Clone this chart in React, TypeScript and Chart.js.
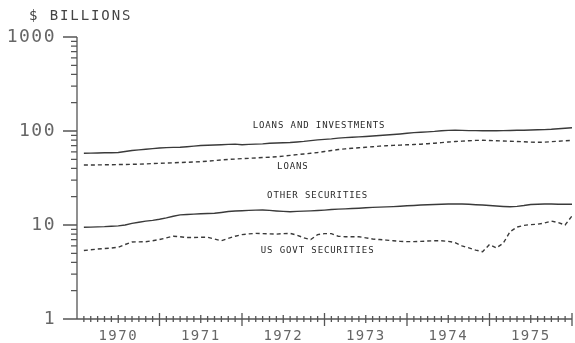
import React, { useEffect, useRef } from 'react';
import { Chart, registerables } from 'chart.js';

Chart.register(...registerables);

// Categories: month-end index (1 = Jan 1970 ... 72 = Dec 1975)
const MONTHS = Array.from({ length: 72 }, (_, i) => i + 1);
const YEAR_LABELS = ['1970', '1971', '1972', '1973', '1974', '1975'];
const Y_TICK_LABELS = [1, 10, 100, 1000];

// $ billions
const LOANS_AND_INVESTMENTS = [
  58.0, 58.2, 58.4, 58.6, 58.8, 59.0, 60.5, 62.0, 63.0, 64.0, 65.0, 66.0,
  66.5, 67.0, 67.2, 68.0, 69.0, 70.0, 70.5, 71.0, 71.5, 72.0, 72.5, 71.5,
  72.0, 72.5, 73.0, 74.0, 74.5, 75.0, 75.5, 76.5, 77.5, 79.0, 80.5, 81.5,
  82.5, 84.0, 85.0, 85.7, 86.5, 87.5, 88.5, 89.5, 90.6, 91.8, 93.0, 94.5,
  96.0, 97.0, 98.0, 99.0, 100.5, 101.5, 101.7, 101.5, 101.0, 100.8, 100.7, 100.5,
  100.7, 101.0, 101.2, 101.7, 102.0, 102.5, 103.0, 103.5, 104.3, 105.5, 107.0, 108.4,
];
const LOANS = [
  43.5, 43.5, 43.6, 43.7, 43.8, 44.0, 44.0, 44.2, 44.4, 44.7, 45.0, 45.3,
  45.6, 45.9, 46.2, 46.5, 46.8, 47.1, 47.8, 48.5, 49.2, 49.8, 50.3, 50.8,
  51.2, 51.7, 52.2, 52.6, 53.2, 54.0, 55.0, 56.0, 57.0, 58.0, 59.0, 60.5,
  62.0, 63.5, 64.5, 65.5, 66.3, 67.2, 68.0, 69.0, 69.8, 70.3, 70.8, 71.3,
  71.8, 72.4, 73.3, 74.2, 75.2, 76.3, 77.2, 78.0, 78.8, 79.4, 79.6, 79.2,
  78.7, 78.3, 77.8, 77.3, 76.8, 76.2, 75.8, 76.2, 77.0, 77.8, 78.8, 79.6,
];
const OTHER_SECURITIES = [
  9.45, 9.5, 9.55, 9.6, 9.7, 9.8, 10.0, 10.4, 10.7, 11.0, 11.2, 11.5,
  11.9, 12.4, 12.8, 12.95, 13.05, 13.15, 13.25, 13.35, 13.6, 13.9, 14.1, 14.2,
  14.3, 14.4, 14.45, 14.3, 14.1, 13.95, 13.85, 13.95, 14.05, 14.15, 14.25, 14.4,
  14.6, 14.75, 14.85, 15.0, 15.1, 15.25, 15.4, 15.5, 15.6, 15.7, 15.85, 16.0,
  16.15, 16.3, 16.4, 16.5, 16.6, 16.7, 16.75, 16.7, 16.6, 16.45, 16.3, 16.1,
  15.9, 15.75, 15.65, 15.8, 16.1, 16.5, 16.65, 16.7, 16.7, 16.65, 16.6, 16.6,
];
const US_GOVT_SECURITIES = [
  5.35, 5.45, 5.55, 5.62, 5.68, 5.8, 6.2, 6.6, 6.62, 6.64, 6.8, 7.0,
  7.3, 7.6, 7.5, 7.35, 7.35, 7.4, 7.4, 7.1, 6.8, 7.2, 7.6, 7.9,
  8.05, 8.15, 8.1, 8.05, 8.0, 8.1, 8.15, 7.8, 7.3, 7.0, 7.9, 8.1,
  8.1, 7.6, 7.5, 7.5, 7.5, 7.3, 7.1, 7.0, 6.9, 6.8, 6.7, 6.65,
  6.65, 6.7, 6.75, 6.8, 6.8, 6.7, 6.5, 6.0, 5.7, 5.4, 5.2, 6.2,
  5.7, 6.4, 8.5, 9.5, 9.9, 10.1, 10.2, 10.5, 11.0, 10.6, 10.0, 12.5,
];

const SERIES_NAMES = ['LOANS AND INVESTMENTS', 'LOANS', 'OTHER SECURITIES', 'US GOVT SECURITIES'];

const MONO = '"DejaVu Sans Mono", "Liberation Mono", monospace';

const zeroPad = (s: any) => {
  s.paddingLeft = 0;
  s.paddingRight = 0;
  s.paddingTop = 0;
  s.paddingBottom = 0;
};

const decorPlugin = {
  id: 'decor',
  beforeDraw(chart: any) {
    chart.ctx.letterSpacing = '1.5px';
  },
  afterDraw(chart: any) {
    const { ctx, chartArea, scales } = chart;
    const { left, right, top, bottom } = chartArea;
    const x = scales.x;
    const y = scales.y;
    ctx.save();
    ctx.strokeStyle = '#555';
    ctx.lineWidth = 1.3;
    ctx.beginPath();
    ctx.moveTo(left, top);
    ctx.lineTo(left, bottom);
    ctx.moveTo(left - 14, bottom);
    ctx.lineTo(right, bottom);
    // y ticks
    for (const d of Y_TICK_LABELS) {
      const py = y.getPixelForValue(d);
      ctx.moveTo(left - 14, py);
      ctx.lineTo(left, py);
      if (d < 1000) {
        for (let k = 2; k <= 9; k++) {
          const p2 = y.getPixelForValue(d * k);
          ctx.moveTo(left - 6, p2);
          ctx.lineTo(left, p2);
        }
      }
    }
    // x ticks (monthly)
    for (let m = 1; m <= 72; m++) {
      const px = x.getPixelForValue(m);
      let up = 3, down = 3;
      if (m % 12 === 0) { up = 6; down = 7; }
      else if (m % 6 === 0) { up = 4; down = 4; }
      ctx.moveTo(px, bottom - up);
      ctx.lineTo(px, bottom + down);
    }
    ctx.stroke();

    // title
    ctx.fillStyle = '#444';
    ctx.font = `14px ${MONO}`;
    ctx.letterSpacing = '1.9px';
    ctx.textAlign = 'left';
    ctx.textBaseline = 'alphabetic';
    ctx.fillText('$ BILLIONS', 29, 19.5);

    // series labels
    const anchors = [
      { m: 35.2, v: 113 },
      { m: 31.4, v: 41.4 },
      { m: 35.0, v: 20.3 },
      { m: 35.0, v: 5.29 },
    ];
    ctx.fillStyle = '#2a2a2a';
    ctx.font = `9px ${MONO}`;
    ctx.letterSpacing = '0.9px';
    ctx.textAlign = 'center';
    ctx.textBaseline = 'middle';
    SERIES_NAMES.forEach((name, i) => {
      ctx.fillText(name, x.getPixelForValue(anchors[i].m), y.getPixelForValue(anchors[i].v));
    });
    ctx.restore();
  },
};

export default function App() {
  const ref = useRef<HTMLCanvasElement>(null);
  useEffect(() => {
    const canvas = ref.current;
    if (!canvas) return;
    const mk = (vals: number[]) => MONTHS.map((m, i) => ({ x: m, y: vals[i] }));
    const lineColor = '#3a3a3a';
    const base = { borderColor: lineColor, borderWidth: 1.4, pointRadius: 0, tension: 0, fill: false };
    const chart = new Chart(canvas, {
      type: 'line',
      data: {
        datasets: [
          { ...base, label: SERIES_NAMES[0], data: mk(LOANS_AND_INVESTMENTS) },
          { ...base, label: SERIES_NAMES[1], data: mk(LOANS), borderDash: [4, 3] },
          { ...base, label: SERIES_NAMES[2], data: mk(OTHER_SECURITIES) },
          { ...base, label: SERIES_NAMES[3], data: mk(US_GOVT_SECURITIES), borderDash: [4, 3] },
        ],
      } as any,
      options: {
        responsive: false,
        animation: false,
        devicePixelRatio: 1,
        layout: { padding: { top: 37, right: 3, left: 0, bottom: 0 } },
        plugins: { legend: { display: false }, tooltip: { enabled: false }, title: { display: false } },
        scales: {
          x: {
            type: 'linear',
            min: 0,
            max: 72,
            grid: { display: false, drawTicks: false },
            border: { display: false },
            afterFit: (s: any) => { s.height = 24; zeroPad(s); },
            ticks: {
              stepSize: 6,
              autoSkip: false,
              maxRotation: 0,
              padding: 9,
              color: '#666',
              font: { family: MONO, size: 14 },
              callback: (v: any) => (v % 12 === 6 ? YEAR_LABELS[(v - 6) / 12] : ''),
            },
          },
          y: {
            type: 'logarithmic',
            min: 1,
            max: 1000,
            grid: { display: false, drawTicks: false },
            border: { display: false },
            afterFit: (s: any) => { s.width = 77; zeroPad(s); },
            ticks: {
              autoSkip: false,
              padding: 21,
              color: '#666',
              font: { family: MONO, size: 18 },
              callback: (v: any) => (Y_TICK_LABELS.includes(Number(v)) ? String(v) : ''),
            },
          },
        },
      } as any,
      plugins: [decorPlugin],
    });
    return () => chart.destroy();
  }, []);
  return (
    <div style={{ position: 'absolute', left: 0, top: 0, width: 575, height: 343, background: '#fff' }}>
      <canvas ref={ref} width={575} height={343} style={{ display: 'block' }} />
    </div>
  );
}
